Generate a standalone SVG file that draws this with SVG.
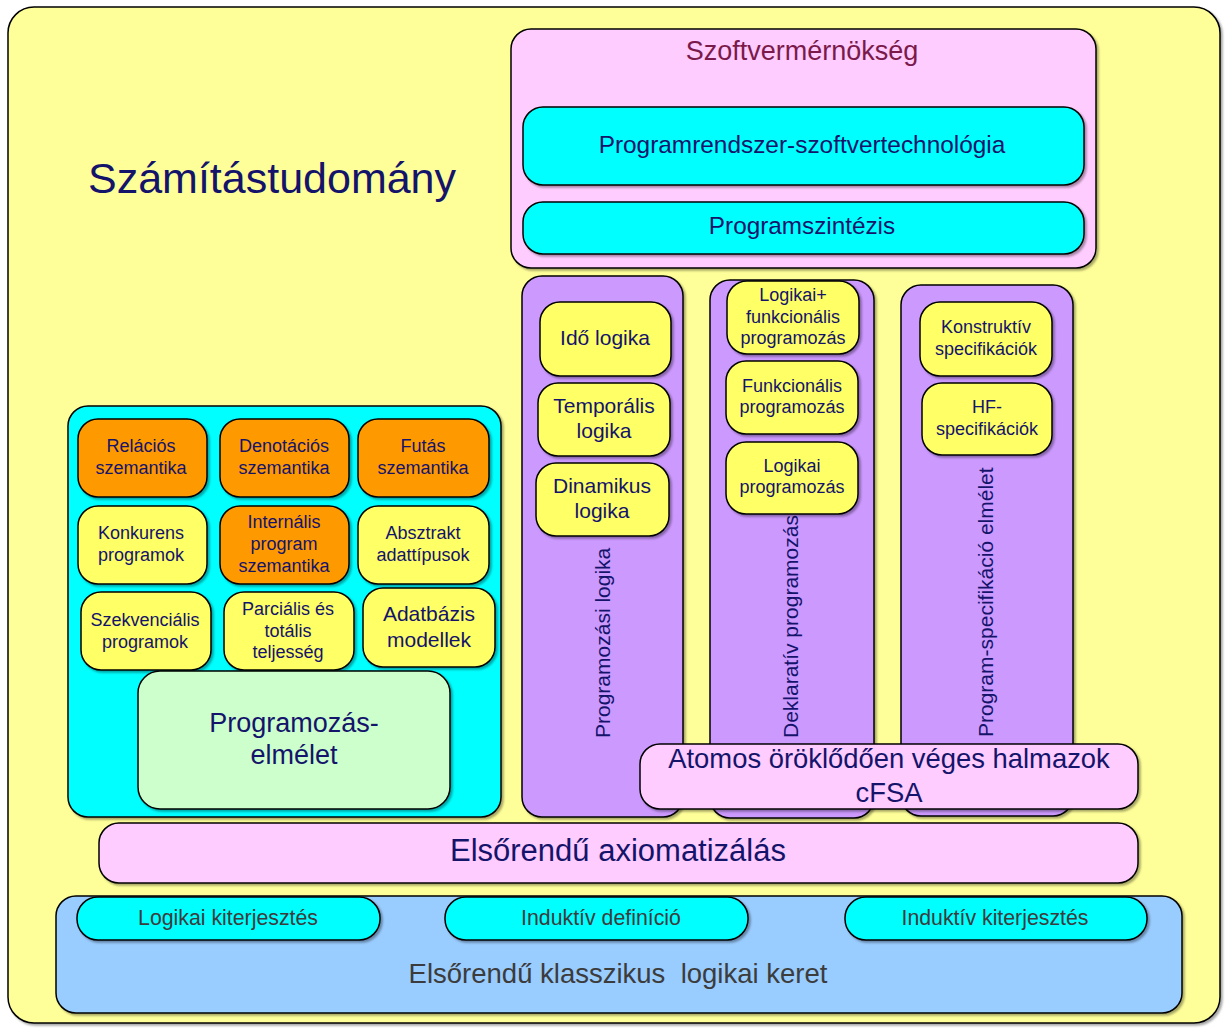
<svg xmlns="http://www.w3.org/2000/svg" width="1225" height="1029" viewBox="0 0 1225 1029">
<defs>
<filter id="sh" x="-5%" y="-5%" width="110%" height="115%">
<feDropShadow dx="2" dy="2" stdDeviation="1.2" flood-color="#000" flood-opacity="0.35"/>
</filter>
<style>
rect{stroke:#000;stroke-width:1.5;filter:url(#sh)}
text{font-family:"Liberation Sans",Arial,sans-serif;fill:#14146b;text-anchor:middle}
.yl{fill:#ffff99}
.pk{fill:#ffccff}
.cy{fill:#00ffff}
.or{fill:#ff9900}
.y2{fill:#ffff66}
.pu{fill:#cc99ff}
.gr{fill:#ccffcc}
.bl{fill:#99ccff}
.s18{font-size:18px}
.s21{font-size:21px}
.gy{fill:#3c3c3c}
</style>
</defs>
<g id="szamitastudomany">
<rect class="yl" x="8" y="7" width="1212" height="1016" rx="26"/>
<text x="272" y="193" style="font-size:43px">Számítástudomány</text>
</g>
<g id="szoftvermernokseg">
<rect class="pk" x="511" y="29" width="585" height="239" rx="20"/>
<text x="802" y="60" style="font-size:27px;fill:#7a1a4a">Szoftvermérnökség</text>
</g>
<g id="programrendszer">
<rect class="cy" x="523" y="107" width="561" height="78" rx="20"/>
<text x="802" y="153" style="font-size:24.4px">Programrendszer-szoftvertechnológia</text>
</g>
<g id="programszintezis">
<rect class="cy" x="523" y="202" width="561" height="52" rx="20"/>
<text x="802" y="234" style="font-size:24.3px">Programszintézis</text>
</g>
<g id="programozasi-logika">
<rect class="pu" x="522" y="276" width="161" height="541" rx="20"/>
<text class="s21" transform="translate(610,738) rotate(-90)" style="text-anchor:start">Programozási logika</text>
</g>
<g id="ido-logika">
<rect class="y2" x="540" y="302" width="131" height="74" rx="20"/>
<text class="s21" x="605" y="345">Idő logika</text>
</g>
<g id="temporalis-logika">
<rect class="y2" x="538" y="383" width="132" height="73" rx="20"/>
<text class="s21" x="604" y="413">Temporális</text>
<text class="s21" x="604" y="438">logika</text>
</g>
<g id="dinamikus-logika">
<rect class="y2" x="536" y="463" width="133" height="73" rx="20"/>
<text class="s21" x="602" y="493">Dinamikus</text>
<text class="s21" x="602" y="518">logika</text>
</g>
<g id="deklarativ-programozas">
<rect class="pu" x="710" y="280" width="164" height="538" rx="20"/>
<text class="s21" transform="translate(798,738) rotate(-90)" style="text-anchor:start">Deklaratív programozás</text>
</g>
<g id="logikai-funkcionalis">
<rect class="y2" x="727" y="281" width="132" height="73" rx="20"/>
<text class="s18" x="793" y="301">Logikai+</text>
<text class="s18" x="793" y="323">funkcionális</text>
<text class="s18" x="793" y="344">programozás</text>
</g>
<g id="funkcionalis-programozas">
<rect class="y2" x="726" y="361" width="132" height="73" rx="20"/>
<text class="s18" x="792" y="392">Funkcionális</text>
<text class="s18" x="792" y="413">programozás</text>
</g>
<g id="logikai-programozas">
<rect class="y2" x="726" y="442" width="132" height="72" rx="20"/>
<text class="s18" x="792" y="472">Logikai</text>
<text class="s18" x="792" y="493">programozás</text>
</g>
<g id="program-specifikacio">
<rect class="pu" x="901" y="285" width="172" height="531" rx="20"/>
<text class="s21" transform="translate(993,737) rotate(-90)" style="text-anchor:start">Program-specifikáció elmélet</text>
</g>
<g id="konstruktiv">
<rect class="y2" x="920" y="302" width="132" height="74" rx="20"/>
<text class="s18" x="986" y="333">Konstruktív</text>
<text class="s18" x="986" y="355">specifikációk</text>
</g>
<g id="hf-specifikaciok">
<rect class="y2" x="922" y="383" width="130" height="72" rx="20"/>
<text class="s18" x="987" y="413">HF-</text>
<text class="s18" x="987" y="435">specifikációk</text>
</g>
<g id="programozas-elmelet-keret">
<rect class="cy" x="68" y="406" width="433" height="411" rx="20"/>
</g>
<g id="relacios">
<rect class="or" x="78" y="419" width="129" height="78" rx="20"/>
<text class="s18" x="141" y="452">Relációs</text>
<text class="s18" x="141" y="474">szemantika</text>
</g>
<g id="denotacios">
<rect class="or" x="220" y="419" width="129" height="78" rx="20"/>
<text class="s18" x="284" y="452">Denotációs</text>
<text class="s18" x="284" y="474">szemantika</text>
</g>
<g id="futas">
<rect class="or" x="358" y="419" width="131" height="78" rx="20"/>
<text class="s18" x="423" y="452">Futás</text>
<text class="s18" x="423" y="474">szemantika</text>
</g>
<g id="konkurens">
<rect class="y2" x="78" y="506" width="129" height="78" rx="20"/>
<text class="s18" x="141" y="539">Konkurens</text>
<text class="s18" x="141" y="561">programok</text>
</g>
<g id="internalis">
<rect class="or" x="220" y="506" width="129" height="78" rx="20"/>
<text class="s18" x="284" y="528">Internális</text>
<text class="s18" x="284" y="550">program</text>
<text class="s18" x="284" y="572">szemantika</text>
</g>
<g id="absztrakt">
<rect class="y2" x="358" y="506" width="131" height="78" rx="20"/>
<text class="s18" x="423" y="539">Absztrakt</text>
<text class="s18" x="423" y="561">adattípusok</text>
</g>
<g id="szekvencialis">
<rect class="y2" x="81" y="592" width="130" height="78" rx="20"/>
<text class="s18" x="145" y="626">Szekvenciális</text>
<text class="s18" x="145" y="648">programok</text>
</g>
<g id="parcialis">
<rect class="y2" x="224" y="592" width="130" height="78" rx="20"/>
<text class="s18" x="288" y="615">Parciális és</text>
<text class="s18" x="288" y="637">totális</text>
<text class="s18" x="288" y="658">teljesség</text>
</g>
<g id="adatbazis">
<rect class="y2" x="363" y="588" width="132" height="79" rx="20"/>
<text x="429" y="621" style="font-size:21px">Adatbázis</text>
<text x="429" y="647" style="font-size:21px">modellek</text>
</g>
<g id="programozas-elmelet">
<rect class="gr" x="138" y="671" width="312" height="138" rx="22"/>
<text x="294" y="732" style="font-size:27px">Programozás-</text>
<text x="294" y="764" style="font-size:27px">elmélet</text>
</g>
<g id="atomos">
<rect class="pk" x="640" y="744" width="498" height="65" rx="20"/>
<text x="889" y="768" style="font-size:27.4px">Atomos öröklődően véges halmazok</text>
<text x="889" y="802" style="font-size:27.4px">cFSA</text>
</g>
<g id="axiomatizalas">
<rect class="pk" x="99" y="823" width="1039" height="60" rx="20"/>
<text x="618" y="861" style="font-size:31px">Elsőrendű axiomatizálás</text>
</g>
<g id="klasszikus-keret">
<rect class="bl" x="56" y="896" width="1126" height="117" rx="20"/>
<text class="gy" x="618" y="983" style="font-size:27.5px" xml:space="preserve">Elsőrendű klasszikus  logikai keret</text>
</g>
<g id="logikai-kiterjesztes">
<rect class="cy" x="77" y="897" width="303" height="43" rx="21"/>
<text class="gy" x="228" y="925" style="font-size:21.3px">Logikai kiterjesztés</text>
</g>
<g id="induktiv-definicio">
<rect class="cy" x="445" y="897" width="303" height="43" rx="21"/>
<text class="gy" x="601" y="925" style="font-size:21.3px">Induktív definíció</text>
</g>
<g id="induktiv-kiterjesztes">
<rect class="cy" x="845" y="897" width="302" height="43" rx="21"/>
<text class="gy" x="995" y="925" style="font-size:21.3px">Induktív kiterjesztés</text>
</g>
<g id="connectors"/>
</svg>
